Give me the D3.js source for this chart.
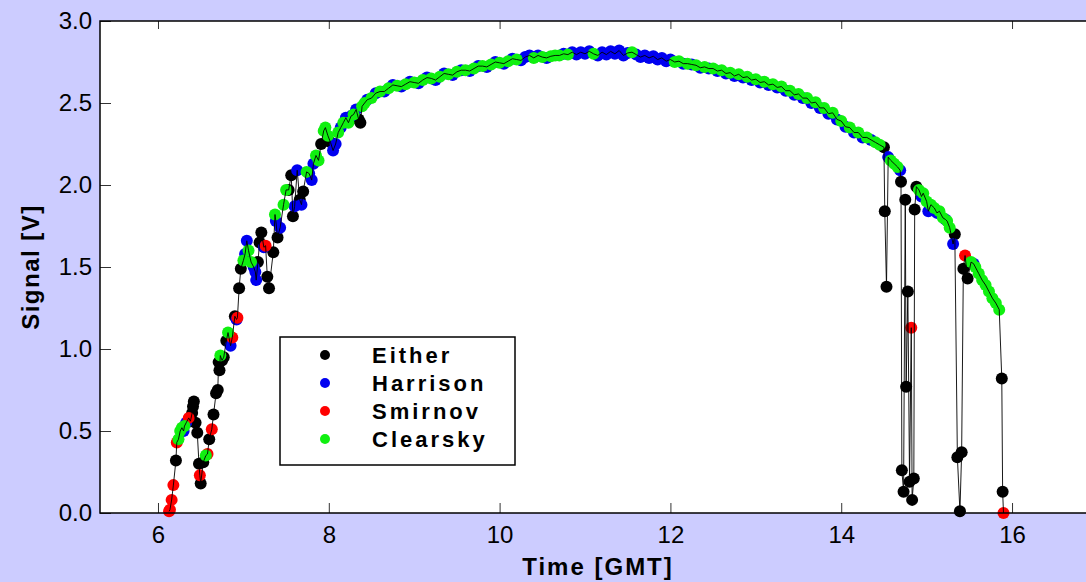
<!DOCTYPE html>
<html><head><meta charset="utf-8">
<script src="https://cdn.jsdelivr.net/npm/d3@7"></script>
<style>html,body{margin:0;padding:0;background:#ccccff;}svg{display:block;}</style>
</head><body>
<svg id="chart" width="1086" height="582"></svg>
<script>
// Categories and colours
const categories = ["Either", "Harrison", "Smirnov", "Clearsky"];
const catColors = ["#000000", "#0000f0", "#ff0000", "#10f010"];
const xTicks = [6, 8, 10, 12, 14, 16];
const yTicks = [0, 0.5, 1.0, 1.5, 2.0, 2.5, 3.0];

// Morning rise (time GMT, signal V, flag: E=Either, H=Harrison, S=Smirnov, C=Clearsky)
const riseTimes = [6.13,6.14,6.16,6.18,6.21,6.22,6.24,6.26,6.28,6.30,6.31,6.33,6.36,6.38,6.40,6.41,6.42,6.44,6.46,6.48,6.49,6.50,6.53,6.56,6.58,6.60,6.63,6.65,6.68,6.70,6.71,6.72,6.73,6.75,6.77,6.80,6.82,6.85,6.87,6.90,6.92,6.93,6.95,6.97,7.00,7.02,7.04,7.06,7.09,7.12,7.14,7.15,7.17,7.19,7.21,7.24,7.26,7.28,7.30,7.35,7.37,7.38,7.40,7.43,7.47,7.50,7.53,7.56,7.58,7.60,7.63,7.66,7.68,7.70,7.74,7.77,7.80,7.82,7.85,7.88,7.91,7.94,7.96,7.99,8.02,8.05,8.08,8.11,8.14,8.17,8.20,8.23,8.26,8.29,8.32,8.35,8.37,8.39,8.42];
const riseSignals = [0.01,0.02,0.08,0.17,0.32,0.43,0.45,0.50,0.52,0.50,0.53,0.55,0.58,0.56,0.61,0.65,0.68,0.55,0.49,0.30,0.23,0.18,0.31,0.35,0.36,0.45,0.51,0.60,0.73,0.75,0.92,0.87,0.96,0.93,0.95,1.05,1.10,1.02,1.07,1.20,1.18,1.19,1.37,1.49,1.54,1.58,1.66,1.60,1.53,1.50,1.47,1.42,1.53,1.65,1.71,1.62,1.63,1.44,1.37,1.59,1.82,1.78,1.68,1.74,1.88,1.97,1.97,2.06,1.81,1.87,2.09,1.91,1.88,1.96,2.08,2.07,2.03,2.13,2.18,2.15,2.25,2.33,2.35,2.30,2.26,2.21,2.25,2.32,2.35,2.38,2.41,2.38,2.42,2.43,2.46,2.40,2.38,2.48,2.50];
const riseFlags = ("SSSSESCCCH" + "CHSEEEEEEE" + "SEECSESEEE" + "EECEEECHSE" + "HSEECHHCCH" +
                   "HHEEEHSEEE" + "CHEHCCEEEH" + "HEHECHHHCC" + "ECCCEHHCHC" + "HCHCHEECC").split("");

// Midday arc
const arcTimes = [8.45,8.50,8.55,8.60,8.65,8.70,8.75,8.80,8.85,8.90,8.95,9.00,9.05,9.10,9.15,9.20,9.25,9.30,9.35,9.40,9.45,9.50,9.55,9.60,9.65,9.70,9.75,9.80,9.85,9.90,9.95,10.00,10.05,10.10,10.15,10.20,10.25,10.30,10.35,10.40,10.45,10.50,10.55,10.60,10.65,10.70,10.75,10.80,10.85,10.90,10.95,11.00,11.05,11.10,11.15,11.20,11.25,11.30,11.35,11.40,11.45,11.50,11.55,11.60,11.65,11.70,11.75,11.80,11.85,11.90,11.95,12.00,12.05,12.10,12.15,12.20,12.25,12.30,12.35,12.40,12.45,12.50,12.55,12.60,12.65,12.70,12.75,12.80,12.85,12.90,12.95,13.00,13.05,13.10,13.15,13.20,13.25,13.30,13.35,13.40,13.45,13.50,13.55,13.60,13.65,13.70,13.75,13.80,13.85,13.90,13.95,14.00,14.05,14.10,14.15,14.20,14.25,14.30,14.35,14.40,14.45];
const arcSignals = [2.52,2.53,2.56,2.57,2.57,2.59,2.61,2.605,2.60,2.615,2.63,2.625,2.62,2.64,2.655,2.65,2.64,2.66,2.68,2.675,2.67,2.69,2.70,2.70,2.695,2.71,2.725,2.725,2.72,2.735,2.75,2.745,2.74,2.755,2.77,2.765,2.76,2.78,2.79,2.775,2.79,2.78,2.775,2.785,2.79,2.79,2.80,2.795,2.81,2.795,2.81,2.80,2.815,2.80,2.79,2.81,2.795,2.815,2.80,2.82,2.79,2.805,2.81,2.795,2.78,2.79,2.775,2.785,2.765,2.775,2.755,2.765,2.75,2.755,2.74,2.74,2.735,2.73,2.715,2.72,2.71,2.71,2.695,2.70,2.68,2.685,2.665,2.675,2.655,2.66,2.64,2.645,2.625,2.63,2.61,2.615,2.595,2.60,2.575,2.575,2.55,2.555,2.53,2.53,2.50,2.505,2.47,2.47,2.435,2.44,2.40,2.39,2.355,2.35,2.32,2.32,2.29,2.29,2.275,2.26,2.245];
const arcFlags = ("HCHCHCHCHC" + "HCHCHCHCHC" + "HCHCHCHCHC" + "HCHCHCHHHC" + "HCHCCCHCHH" +
                  "HHHCHHHHHH" + "HHCHHHHHHH" + "HHCCHCHCHC" + "HCHCHCHCHC" + "HCHCHCHCHC" +
                  "HCHCHCHCHC" + "HCHCHCHCHCC").split("");

// Afternoon with cloud drops
const tailTimes = [14.50,14.51,14.53,14.55,14.58,14.62,14.66,14.69,14.70,14.71,14.73,14.75,14.76,14.78,14.80,14.82,14.83,14.85,14.86,14.88,14.91,14.94,14.96,15.00,15.02,15.05,15.09,15.12,15.15,15.19,15.22,15.24,15.27,15.31,15.33,15.36,15.39,15.41,15.43,15.45,15.48,15.52,15.55,15.57,15.61,15.65,15.69,15.73,15.77,15.81,15.85,15.88,15.89,15.90];
const tailSignals = [2.23,1.84,1.38,2.17,2.15,2.13,2.11,2.09,2.02,0.26,0.13,1.91,0.77,1.35,0.19,1.13,0.08,0.21,1.85,1.99,1.97,1.93,1.95,1.90,1.84,1.88,1.86,1.83,1.84,1.80,1.79,1.78,1.74,1.64,1.70,0.34,0.01,0.37,1.49,1.57,1.43,1.53,1.52,1.50,1.46,1.42,1.39,1.35,1.31,1.28,1.24,0.82,0.13,0.00];
const tailFlags = ("EEEHCCCHEE" + "EEEEESEEEE" + "CHCCHCCHCC" + "HCCHEEEEES" + "ECHCCCCCCC" + "CEES").split("");

const flagIndex = {E: 0, H: 1, S: 2, C: 3};

const times = riseTimes.concat(arcTimes, tailTimes);
const signals = riseSignals.concat(arcSignals, tailSignals);
const flags = riseFlags.concat(arcFlags, tailFlags);
const points = times.map((t, i) => ({t: t, v: signals[i], c: flagIndex[flags[i]]}));

const svg = d3.select("#chart");
const W = 1086, H = 582;
const mLeft = 100, mTop = 21, mBottom = 513, mRight = 1100;

svg.append("rect").attr("width", W).attr("height", H).attr("fill", "#ccccff");

const x = d3.scaleLinear().domain([5.321, 17.03]).range([mLeft, mRight]);
const y = d3.scaleLinear().domain([0, 3]).range([mBottom, mTop]);

svg.append("rect").attr("x", mLeft).attr("y", mTop).attr("width", mRight - mLeft).attr("height", mBottom - mTop)
  .attr("fill", "#ffffff");

const plot = svg.append("g");
categories.forEach((name, ci) => {
  plot.append("g").selectAll("circle").data(points.filter(p => p.c === ci)).join("circle")
    .attr("cx", d => x(d.t)).attr("cy", d => y(d.v)).attr("r", 6)
    .attr("fill", catColors[ci]);
});
plot.append("path").datum(points)
  .attr("d", d3.line().x(d => x(d.t)).y(d => y(d.v)))
  .attr("fill", "none").attr("stroke", "#000").attr("stroke-width", 0.9);

const fontFam = "'Liberation Sans', Arial, sans-serif";
const gx = svg.append("g").attr("transform", `translate(0,${mBottom})`)
  .call(d3.axisBottom(x).tickValues(xTicks).tickFormat(d3.format("d")).tickSize(-10).tickPadding(13));
const gxt = svg.append("g").attr("transform", `translate(0,${mTop})`)
  .call(d3.axisTop(x).tickValues(xTicks).tickFormat("").tickSize(-8));
const gy = svg.append("g").attr("transform", `translate(${mLeft},0)`)
  .call(d3.axisLeft(y).tickValues(yTicks).tickFormat(d3.format(".1f")).tickSize(-11).tickPadding(8));
[gx, gxt, gy].forEach(g => {
  g.select(".domain").remove();
  g.selectAll(".tick line").attr("stroke", "#333").attr("stroke-width", 1);
  g.selectAll(".tick text").attr("fill", "#000").style("font-family", fontFam).style("font-size", "24px");
});

svg.append("rect").attr("x", mLeft).attr("y", mTop).attr("width", mRight - mLeft).attr("height", mBottom - mTop)
  .attr("fill", "none").attr("stroke", "#000").attr("stroke-width", 1.5);

svg.append("text").attr("x", 598).attr("y", 575).attr("text-anchor", "middle")
  .style("font-family", fontFam).style("font-weight", "bold").style("font-size", "24px")
  .style("letter-spacing", "2px").text("Time [GMT]");
svg.append("text").attr("transform", "translate(39,267) rotate(-90)").attr("text-anchor", "middle")
  .style("font-family", fontFam).style("font-weight", "bold").style("font-size", "24px")
  .style("letter-spacing", "1.5px").text("Signal [V]");

const lg = svg.append("g");
lg.append("rect").attr("x", 280).attr("y", 337).attr("width", 235).attr("height", 128)
  .attr("fill", "#fff").attr("stroke", "#000").attr("stroke-width", 1.5);
categories.forEach((name, i) => {
  const cy = 355 + i * 28;
  lg.append("circle").attr("cx", 325).attr("cy", cy).attr("r", 5).attr("fill", catColors[i]);
  lg.append("text").attr("x", 372).attr("y", cy + 8)
    .style("font-family", fontFam).style("font-weight", "bold").style("font-size", "22px")
    .style("letter-spacing", "3px").text(name);
});

const lens = [riseTimes.length, riseSignals.length, riseFlags.length, arcTimes.length, arcSignals.length, arcFlags.length, tailTimes.length, tailSignals.length, tailFlags.length];
if (lens[0] !== lens[1] || lens[0] !== lens[2] || lens[3] !== lens[4] || lens[3] !== lens[5] || lens[6] !== lens[7] || lens[6] !== lens[8]) {
  throw new Error("length mismatch " + lens.join(","));
}
</script>
</body></html>
